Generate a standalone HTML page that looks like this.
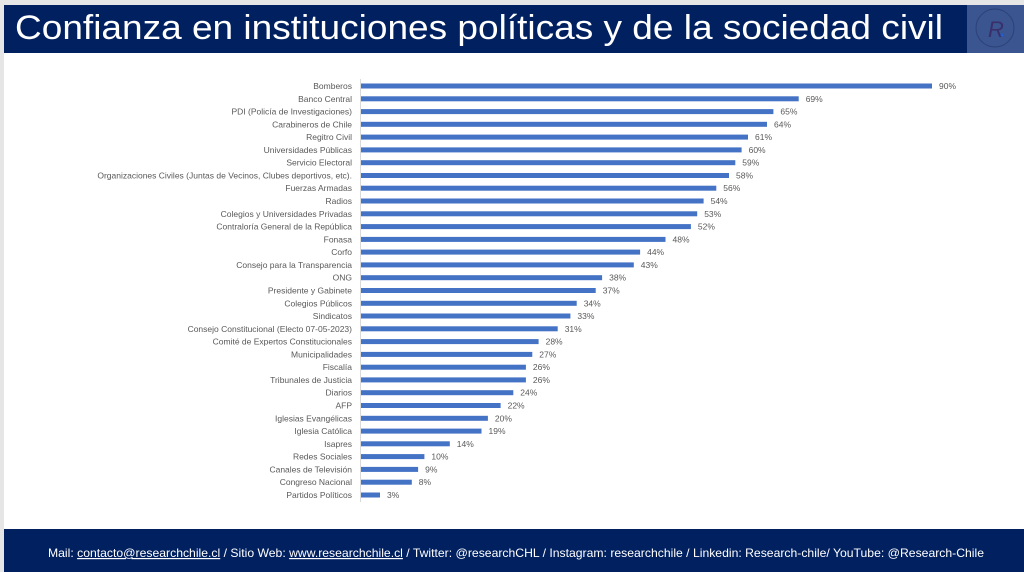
<!DOCTYPE html>
<html><head><meta charset="utf-8"><style>
html,body{margin:0;padding:0;background:#e6e6e6;}
svg{display:block;}
text{font-family:"Liberation Sans",Arial,sans-serif;}
</style></head><body>
<svg width="1024" height="572" viewBox="0 0 1024 572" xmlns="http://www.w3.org/2000/svg">
<rect x="0" y="0" width="1024" height="572" fill="#e6e6e6"/>
<rect x="4" y="53" width="1020" height="476" fill="#ffffff"/>
<rect x="4" y="5" width="963" height="48" fill="#002060"/>
<rect x="967" y="5" width="57" height="48" fill="#3a5590"/>
<circle cx="995" cy="28" r="19" fill="none" stroke="#2c4178" stroke-width="1"/>
<text x="988" y="37" font-size="22" fill="#3a2f6b" font-style="italic" font-family="Liberation Serif, serif">R</text>
<circle cx="1002" cy="35" r="1.5" fill="#1f5fd0"/>
<text x="15" y="39" font-size="34" fill="#ffffff" textLength="928" lengthAdjust="spacingAndGlyphs">Confianza en instituciones políticas y de la sociedad civil</text>

<line x1="360.5" y1="79" x2="360.5" y2="502" stroke="#d9d9d9" stroke-width="1"/>

<g fill="#4472c4">
<rect x="361" y="83.5" width="571" height="5"/>
<rect x="361" y="96.3" width="437.7" height="5"/>
<rect x="361" y="109.1" width="412.4" height="5"/>
<rect x="361" y="121.8" width="406" height="5"/>
<rect x="361" y="134.6" width="387" height="5"/>
<rect x="361" y="147.4" width="380.6" height="5"/>
<rect x="361" y="160.2" width="374.3" height="5"/>
<rect x="361" y="173" width="368" height="5"/>
<rect x="361" y="185.7" width="355.3" height="5"/>
<rect x="361" y="198.5" width="342.6" height="5"/>
<rect x="361" y="211.3" width="336.2" height="5"/>
<rect x="361" y="224.1" width="329.9" height="5"/>
<rect x="361" y="236.9" width="304.5" height="5"/>
<rect x="361" y="249.6" width="279.1" height="5"/>
<rect x="361" y="262.4" width="272.8" height="5"/>
<rect x="361" y="275.2" width="241.1" height="5"/>
<rect x="361" y="288" width="234.7" height="5"/>
<rect x="361" y="300.8" width="215.7" height="5"/>
<rect x="361" y="313.5" width="209.4" height="5"/>
<rect x="361" y="326.3" width="196.7" height="5"/>
<rect x="361" y="339.1" width="177.6" height="5"/>
<rect x="361" y="351.9" width="171.3" height="5"/>
<rect x="361" y="364.7" width="164.9" height="5"/>
<rect x="361" y="377.4" width="164.9" height="5"/>
<rect x="361" y="390.2" width="152.3" height="5"/>
<rect x="361" y="403" width="139.6" height="5"/>
<rect x="361" y="415.8" width="126.9" height="5"/>
<rect x="361" y="428.6" width="120.5" height="5"/>
<rect x="361" y="441.3" width="88.8" height="5"/>
<rect x="361" y="454.1" width="63.4" height="5"/>
<rect x="361" y="466.9" width="57.1" height="5"/>
<rect x="361" y="479.7" width="50.8" height="5"/>
<rect x="361" y="492.5" width="19" height="5"/>
</g>

<g font-size="8.5" fill="#595959" text-anchor="end">
<text x="352" y="89">Bomberos</text>
<text x="352" y="101.8">Banco Central</text>
<text x="352" y="114.6">PDI (Policía de Investigaciones)</text>
<text x="352" y="127.3">Carabineros de Chile</text>
<text x="352" y="140.1">Regitro Civil</text>
<text x="352" y="152.9">Universidades Públicas</text>
<text x="352" y="165.7">Servicio Electoral</text>
<text x="352" y="178.5">Organizaciones Civiles (Juntas de Vecinos, Clubes deportivos, etc).</text>
<text x="352" y="191.2">Fuerzas Armadas</text>
<text x="352" y="204">Radios</text>
<text x="352" y="216.8">Colegios y Universidades Privadas</text>
<text x="352" y="229.6">Contraloría General de la República</text>
<text x="352" y="242.4">Fonasa</text>
<text x="352" y="255.1">Corfo</text>
<text x="352" y="267.9">Consejo para la Transparencia</text>
<text x="352" y="280.7">ONG</text>
<text x="352" y="293.5">Presidente y Gabinete</text>
<text x="352" y="306.3">Colegios Públicos</text>
<text x="352" y="319">Sindicatos</text>
<text x="352" y="331.8">Consejo Constitucional (Electo 07-05-2023)</text>
<text x="352" y="344.6">Comité de Expertos Constitucionales</text>
<text x="352" y="357.4">Municipalidades</text>
<text x="352" y="370.2">Fiscalía</text>
<text x="352" y="382.9">Tribunales de Justicia</text>
<text x="352" y="395.7">Diarios</text>
<text x="352" y="408.5">AFP</text>
<text x="352" y="421.3">Iglesias Evangélicas</text>
<text x="352" y="434.1">Iglesia Católica</text>
<text x="352" y="446.8">Isapres</text>
<text x="352" y="459.6">Redes Sociales</text>
<text x="352" y="472.4">Canales de Televisión</text>
<text x="352" y="485.2">Congreso Nacional</text>
<text x="352" y="498">Partidos Políticos</text>
</g>

<g font-size="8.5" fill="#595959">
<text x="939" y="89">90%</text>
<text x="805.7" y="101.8">69%</text>
<text x="780.4" y="114.6">65%</text>
<text x="774" y="127.3">64%</text>
<text x="755" y="140.1">61%</text>
<text x="748.6" y="152.9">60%</text>
<text x="742.3" y="165.7">59%</text>
<text x="736" y="178.5">58%</text>
<text x="723.3" y="191.2">56%</text>
<text x="710.6" y="204">54%</text>
<text x="704.2" y="216.8">53%</text>
<text x="697.9" y="229.6">52%</text>
<text x="672.5" y="242.4">48%</text>
<text x="647.1" y="255.1">44%</text>
<text x="640.8" y="267.9">43%</text>
<text x="609.1" y="280.7">38%</text>
<text x="602.7" y="293.5">37%</text>
<text x="583.7" y="306.3">34%</text>
<text x="577.4" y="319">33%</text>
<text x="564.7" y="331.8">31%</text>
<text x="545.6" y="344.6">28%</text>
<text x="539.3" y="357.4">27%</text>
<text x="532.9" y="370.2">26%</text>
<text x="532.9" y="382.9">26%</text>
<text x="520.3" y="395.7">24%</text>
<text x="507.6" y="408.5">22%</text>
<text x="494.9" y="421.3">20%</text>
<text x="488.5" y="434.1">19%</text>
<text x="456.8" y="446.8">14%</text>
<text x="431.4" y="459.6">10%</text>
<text x="425.1" y="472.4">9%</text>
<text x="418.8" y="485.2">8%</text>
<text x="387" y="498">3%</text>
</g>

<rect x="4" y="529" width="1020" height="43" fill="#002060"/>
<text x="48" y="557" font-size="12" fill="#ffffff" textLength="936" lengthAdjust="spacingAndGlyphs">Mail: <tspan text-decoration="underline">contacto@researchchile.cl</tspan> / Sitio Web: <tspan text-decoration="underline">www.researchchile.cl</tspan> / Twitter: @researchCHL / Instagram: researchchile / Linkedin: Research-chile/ YouTube: @Research-Chile</text>
</svg>
</body></html>
